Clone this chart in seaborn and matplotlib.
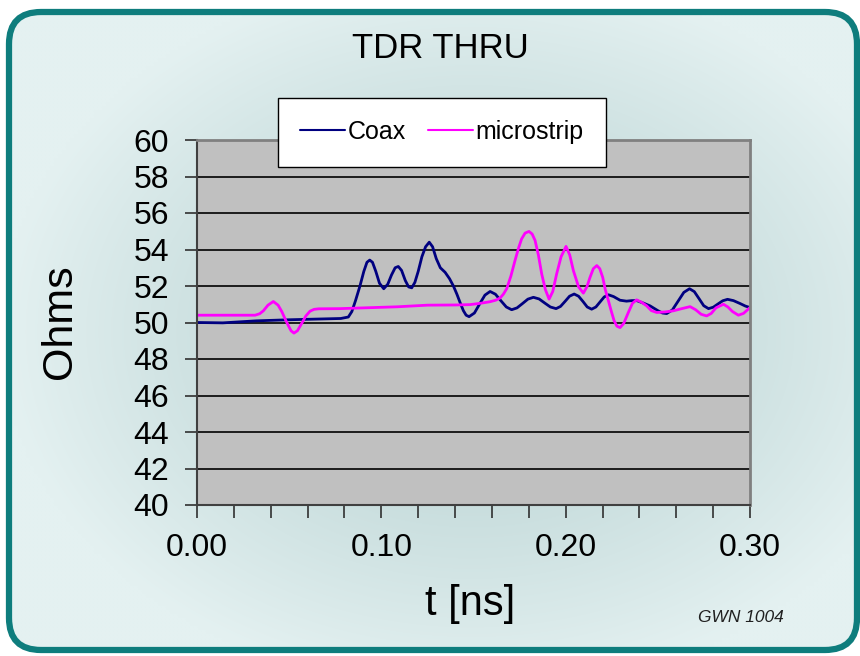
import numpy as np
import pandas as pd
import matplotlib
matplotlib.use("Agg")
import matplotlib.pyplot as plt
from matplotlib.patches import FancyBboxPatch
from matplotlib.colors import to_rgb
from matplotlib.ticker import MultipleLocator, FormatStrFormatter
import seaborn as sns

# values (t in ns, impedance in Ohms)
t_coax = [0.000, 0.014, 0.032, 0.050, 0.078, 0.0821, 0.0840, 0.0860, 0.0884, 0.0905,
          0.0922, 0.0937, 0.0952, 0.0970, 0.0990, 0.1013, 0.1035, 0.1055, 0.1075, 0.1092,
          0.1110, 0.1130, 0.1148, 0.1165, 0.1182, 0.1200, 0.1220, 0.1240, 0.1260, 0.1278,
          0.1298, 0.1320, 0.1346, 0.1370, 0.1391, 0.1410, 0.1427, 0.1445, 0.1460, 0.1476,
          0.1505, 0.1533, 0.1562, 0.1590, 0.1619, 0.1648, 0.1678, 0.1707, 0.1736, 0.1766,
          0.1795, 0.1825, 0.1856, 0.1886, 0.1917, 0.1948, 0.1972, 0.1997, 0.2021, 0.2046,
          0.2070, 0.2094, 0.2117, 0.2141, 0.2164, 0.2186, 0.2209, 0.2232, 0.2260, 0.2295,
          0.2330, 0.2360, 0.2385, 0.2420, 0.2458, 0.2500, 0.2525, 0.2548, 0.2579, 0.2610,
          0.2641, 0.2672, 0.2698, 0.2724, 0.2749, 0.2775, 0.2801, 0.2827, 0.2852, 0.2878,
          0.2910, 0.2946, 0.2975, 0.3000]
ohm_coax = [50.00, 49.98, 50.09, 50.15, 50.22, 50.30, 50.60, 51.20, 52.00, 52.80,
            53.30, 53.42, 53.30, 52.80, 52.15, 51.85, 52.10, 52.60, 53.00, 53.07,
            52.85, 52.30, 51.95, 51.90, 52.20, 52.80, 53.60, 54.15, 54.40, 54.15,
            53.50, 53.00, 52.75, 52.40, 52.00, 51.55, 51.10, 50.65, 50.40, 50.32,
            50.52, 51.01, 51.50, 51.70, 51.55, 51.20, 50.85, 50.70, 50.80, 51.04,
            51.28, 51.38, 51.29, 51.07, 50.85, 50.76, 50.88, 51.16, 51.44, 51.56,
            51.44, 51.15, 50.85, 50.73, 50.85, 51.12, 51.40, 51.52, 51.42, 51.22,
            51.17, 51.20, 51.20, 51.07, 50.91, 50.65, 50.52, 50.49, 50.69, 51.17,
            51.65, 51.85, 51.69, 51.30, 50.92, 50.76, 50.84, 51.02, 51.19, 51.27,
            51.20, 51.04, 50.90, 50.82]

t_micro = [0.000, 0.0315, 0.0340, 0.0360, 0.0385, 0.0414, 0.0440, 0.0460, 0.0480, 0.0496,
           0.0510, 0.0526, 0.0545, 0.0568, 0.0590, 0.0613, 0.0635, 0.0660, 0.0776, 0.0900,
           0.1085, 0.1250, 0.1400, 0.1481, 0.1536, 0.1590, 0.1620, 0.1644, 0.1662, 0.1680,
           0.1703, 0.1725, 0.1745, 0.1761, 0.1780, 0.1801, 0.1818, 0.1834, 0.1852, 0.1870,
           0.1890, 0.1910, 0.1930, 0.1951, 0.1975, 0.2002, 0.2022, 0.2042, 0.2070, 0.2096,
           0.2115, 0.2132, 0.2150, 0.2169, 0.2185, 0.2201, 0.2215, 0.2232, 0.2248, 0.2263,
           0.2278, 0.2295, 0.2315, 0.2340, 0.2362, 0.2385, 0.2410, 0.2440, 0.2465, 0.2494,
           0.2540, 0.2584, 0.2630, 0.2675, 0.2705, 0.2735, 0.2765, 0.2790, 0.2815, 0.2856,
           0.2880, 0.2905, 0.2937, 0.2965, 0.3000]
ohm_micro = [50.40, 50.40, 50.48, 50.64, 50.95, 51.15, 50.95, 50.60, 50.15, 49.82,
             49.55, 49.42, 49.55, 49.95, 50.35, 50.62, 50.72, 50.75, 50.76, 50.80,
             50.86, 50.95, 50.96, 50.98, 51.05, 51.14, 51.22, 51.34, 51.55, 51.85,
             52.55, 53.39, 54.10, 54.58, 54.90, 54.99, 54.85, 54.50, 53.70, 52.66,
             51.80, 51.28, 51.70, 52.66, 53.60, 54.17, 53.70, 52.84, 51.95, 51.61,
             51.95, 52.47, 52.95, 53.12, 52.95, 52.47, 51.80, 51.19, 50.60, 50.09,
             49.80, 49.72, 49.95, 50.55, 51.05, 51.24, 51.12, 50.91, 50.65, 50.55,
             50.58, 50.64, 50.76, 50.87, 50.70, 50.45, 50.36, 50.50, 50.80, 51.00,
             50.85, 50.60, 50.40, 50.50, 50.82]

series_names = ["Coax", "microstrip"]
y_ticks = list(range(40, 61, 2))

df = pd.concat([
    pd.DataFrame({"t": t_coax, "ohms": ohm_coax, "series": "Coax"}),
    pd.DataFrame({"t": t_micro, "ohms": ohm_micro, "series": "microstrip"}),
])

sns.set_style("white")
plt.rcParams["font.family"] = ["Liberation Sans", "DejaVu Sans"]
plt.rcParams["text.color"] = "black"
plt.rcParams["axes.labelcolor"] = "black"
plt.rcParams["xtick.color"] = "black"
plt.rcParams["ytick.color"] = "black"

fig = plt.figure(figsize=(8.6, 6.56), dpi=100, facecolor="white")

# background panel: rounded teal frame with soft radial gradient
bg = fig.add_axes([0, 0, 1, 1], zorder=-10)
bg.set_xlim(0, 860)
bg.set_ylim(656, 0)
bg.axis("off")
yy, xx = np.mgrid[0:656:4, 0:860:4]
r = np.sqrt(((xx - 470) / 470.0) ** 2 + ((yy - 330) / 360.0) ** 2)
r = np.clip(r, 0, 1) ** 1.3
c0 = np.array(to_rgb("#b8d2d2"))
c1 = np.array(to_rgb("#e4f1f1"))
img = c0[None, None, :] * (1 - r[..., None]) + c1[None, None, :] * r[..., None]
frame = FancyBboxPatch((9, 12), 848, 638, boxstyle="round,pad=0,rounding_size=32",
                       facecolor="none", edgecolor="#0e7d7d", linewidth=4.5)
bg.add_patch(frame)
im = bg.imshow(img, extent=[0, 860, 656, 0], aspect="auto", interpolation="bilinear")
im.set_clip_path(frame)

# main plot area
ax = fig.add_axes([197 / 860, 1 - 505 / 656, 553 / 860, 365 / 656])
ax.set_facecolor("#c0c0c0")
sns.lineplot(data=df, x="t", y="ohms", hue="series", hue_order=series_names,
             palette={"Coax": "#000080", "microstrip": "#ff00ff"},
             estimator=None, sort=False, linewidth=2.0, ax=ax)

ax.set_xlim(0, 0.30)
ax.set_ylim(40, 60)
ax.set_yticks(y_ticks)
ax.xaxis.set_major_locator(MultipleLocator(0.1))
ax.xaxis.set_minor_locator(MultipleLocator(0.02))
ax.xaxis.set_major_formatter(FormatStrFormatter("%.2f"))
ax.grid(axis="y", color="black", linewidth=1.2)
ax.grid(axis="x", visible=False)
ax.set_axisbelow(True)
ax.tick_params(axis="both", which="both", direction="out", length=9, width=1.2,
               color="#303030", labelsize=23, labelcolor="black", pad=11)
ax.tick_params(axis="x", which="both", bottom=True)
ax.tick_params(axis="y", left=True)
for side in ["top", "right"]:
    ax.spines[side].set_color("#808080")
    ax.spines[side].set_linewidth(2)
for side in ["left", "bottom"]:
    ax.spines[side].set_color("#404040")
    ax.spines[side].set_linewidth(1.5)

ax.set_xlabel("t [ns]", fontsize=30, color="black")
ax.set_ylabel("Ohms", fontsize=31, color="black")
ax.xaxis.label.set(va="center")
ax.xaxis.set_label_coords((470 - 197) / 553, (505 - 604) / 365)
ax.yaxis.label.set(va="center", rotation_mode="anchor")
ax.yaxis.set_label_coords((60 - 197) / 553, (505 - 322) / 365)
ax.set_title("TDR THRU", fontsize=25, color="black",
             x=(440 - 197) / 553, y=1 + (140 - 57) / 365, va="center")

handles, labels = ax.get_legend_handles_labels()
leg = ax.legend(handles, labels, loc="center", ncol=2, fontsize=18,
                bbox_to_anchor=(442 / 860, 1 - 132 / 656), bbox_transform=fig.transFigure,
                frameon=True, fancybox=False, edgecolor="black", facecolor="white",
                framealpha=1, borderpad=0.9, handlelength=1.8, handletextpad=0.1,
                columnspacing=0.9)
leg.get_frame().set_linewidth(1.0)
for text in leg.get_texts():
    text.set_color("black")
for line in leg.get_lines():
    line.set_linewidth(1.5)

fig.text(741 / 860, 1 - 617 / 656, "GWN 1004", fontsize=12.5, style="italic",
         ha="center", va="center", color="#202020")

fig.savefig("out.png", dpi=100, facecolor="white")
